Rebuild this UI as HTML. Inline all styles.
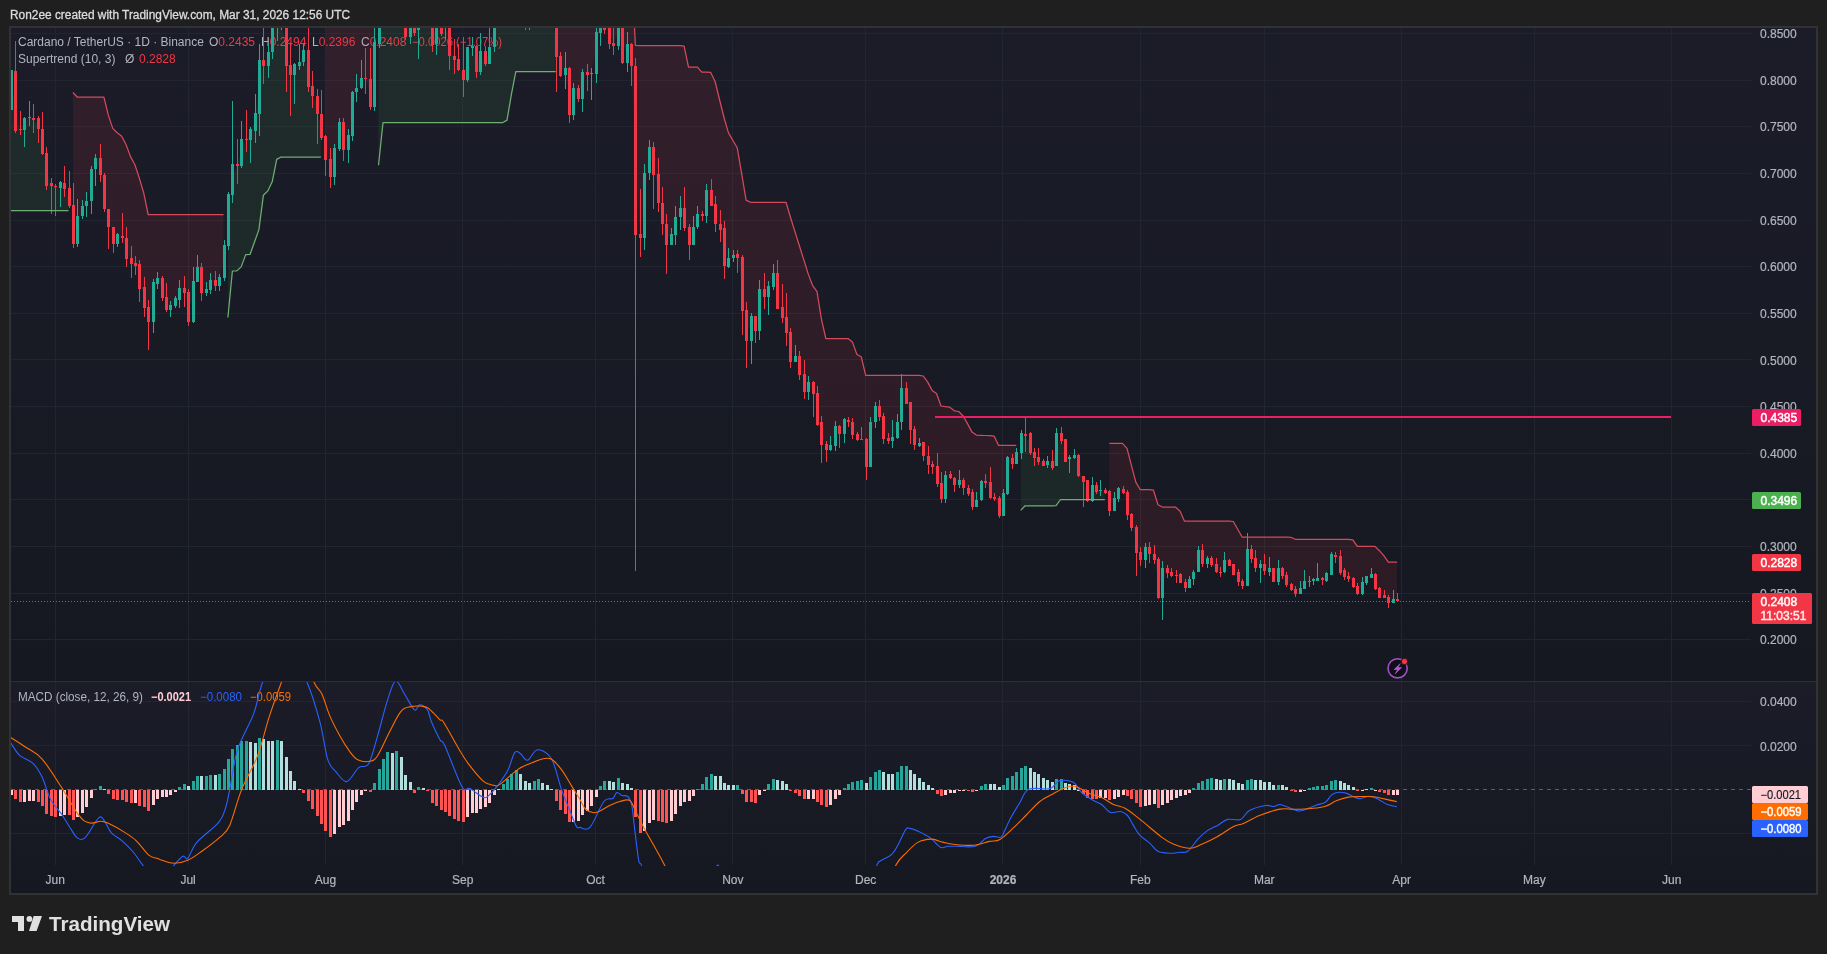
<!DOCTYPE html>
<html><head><meta charset="utf-8"><title>Cardano / TetherUS chart</title>
<style>html,body{margin:0;padding:0;background:#1f1f1f;overflow:hidden}svg{display:block;will-change:transform}text{font-family:"Liberation Sans",sans-serif}</style>
</head><body><svg width="1827" height="954" viewBox="0 0 1827 954" font-family="Liberation Sans, sans-serif"><rect x="0" y="0" width="1827" height="954" fill="#1f1f1f"/><rect x="9" y="26" width="1809" height="869" fill="#303234"/><defs><linearGradient id="gp" gradientUnits="userSpaceOnUse" x1="0" y1="28" x2="0" y2="681"><stop offset="0" stop-color="#1b1c28"/><stop offset="1" stop-color="#151821"/></linearGradient><linearGradient id="gm" gradientUnits="userSpaceOnUse" x1="0" y1="682" x2="0" y2="893"><stop offset="0" stop-color="#1b1c28"/><stop offset="1" stop-color="#151821"/></linearGradient></defs><rect x="11" y="28" width="1805" height="653" fill="url(#gp)"/><rect x="11" y="681" width="1805" height="212" fill="url(#gm)"/><text x="10" y="19" fill="#dcdcdc" stroke="#dcdcdc" stroke-width="0.3" font-size="12" textLength="340" lengthAdjust="spacingAndGlyphs">Ron2ee created with TradingView.com, Mar 31, 2026 12:56 UTC</text><path d="M11 33.5H1751 M11 80.5H1751 M11 126.5H1751 M11 173.5H1751 M11 220.5H1751 M11 266.5H1751 M11 313.5H1751 M11 359.5H1751 M11 406.5H1751 M11 453.5H1751 M11 499.5H1751 M11 546.5H1751 M11 593.5H1751 M11 639.5H1751 M11 701.5H1751 M11 745.5H1751 M11 833.5H1751 M55.5 28V865 M188.5 28V865 M325.5 28V865 M462.5 28V865 M595.5 28V865 M732.5 28V865 M865.5 28V865 M1002.5 28V865 M1140.5 28V865 M1264.5 28V865 M1401.5 28V865 M1534.5 28V865 M1671.5 28V865" stroke="#21252f" stroke-width="1" fill="none"/><defs><clipPath id="cp"><rect x="11" y="28" width="1740" height="653"/></clipPath><clipPath id="cm"><rect x="11" y="682" width="1740" height="184"/></clipPath></defs><g font-size="12"><text x="18" y="46" fill="#b2b5be">Cardano / TetherUS · 1D · Binance</text><text x="209" y="46" fill="#b2b5be">O<tspan fill="#f23645">0.2435</tspan></text><text x="261" y="46" fill="#b2b5be">H<tspan fill="#f23645">0.2494</tspan></text><text x="312" y="46" fill="#b2b5be">L<tspan fill="#f23645">0.2396</tspan></text><text x="361" y="46" fill="#b2b5be">C<tspan fill="#f23645">0.2408</tspan></text><text x="412" y="46" fill="#f23645" textLength="90" lengthAdjust="spacingAndGlyphs">−0.0026 (−1.07%)</text><text x="18" y="63" fill="#b2b5be">Supertrend (10, 3)</text><text x="125" y="63" fill="#b2b5be">Ø</text><text x="139" y="63" fill="#f23645">0.2828</text></g><g clip-path="url(#cp)"><polygon points="10.9,210.5 15.4,210.5 19.8,210.5 24.2,210.5 28.7,210.5 33.1,210.5 37.5,210.5 41.9,210.5 46.4,210.5 50.8,210.5 55.2,210.5 59.7,210.5 64.1,210.5 68.5,210.5 68.5,197.0 64.1,185.9 59.7,185.2 55.2,186.2 50.8,184.7 46.4,169.1 41.9,141.2 37.5,123.9 33.1,118.8 28.7,117.6 24.2,123.9 19.8,129.4 15.4,101.1 10.9,90.2" fill="rgba(76,175,80,0.10)"/><polygon points="72.9,92.5 77.4,97.2 81.8,97.2 86.2,97.2 90.7,97.2 95.1,97.2 99.5,97.2 103.9,97.2 108.4,115.4 112.8,128.4 117.2,132.8 121.7,136.3 126.1,144.7 130.5,156.6 134.9,164.7 139.4,178.4 143.8,193.3 148.2,214.5 152.7,214.5 157.1,214.5 161.5,214.5 165.9,214.5 170.4,214.5 174.8,214.5 179.2,214.5 183.7,214.5 188.1,214.5 192.5,214.5 196.9,214.5 201.4,214.5 205.8,214.5 210.2,214.5 214.7,214.5 219.1,214.5 223.5,214.5 223.5,261.3 219.1,281.4 214.7,282.9 210.2,284.9 205.8,290.8 201.4,279.8 196.9,274.3 192.5,301.4 188.1,306.9 183.7,290.4 179.2,293.9 174.8,302.1 170.4,307.6 165.9,303.4 161.5,288.1 157.1,280.9 152.7,302.2 148.2,314.4 143.8,297.5 139.4,276.6 134.9,264.6 130.5,261.1 126.1,248.5 121.7,237.2 117.2,239.1 112.8,235.6 108.4,218.2 103.9,191.9 99.5,166.7 95.1,163.5 90.7,185.2 86.2,203.7 81.8,210.8 77.4,229.7 72.9,224.6" fill="rgba(242,54,69,0.10)"/><polygon points="227.9,317.5 232.4,271.0 236.8,270.9 241.2,266.9 245.7,254.6 250.1,254.3 254.5,242.0 258.9,229.6 263.4,195.2 267.8,190.9 272.2,181.8 276.7,159.4 281.1,157.0 285.5,157.0 289.9,157.0 294.4,157.0 298.8,157.0 303.2,157.0 307.7,157.0 312.1,157.0 316.5,157.0 320.9,157.0 320.9,125.8 316.5,105.5 312.1,91.3 307.7,68.5 303.2,55.9 298.8,63.8 294.4,69.7 289.9,70.1 285.5,42.9 281.1,23.5 276.7,24.0 272.2,36.2 267.8,58.7 263.4,63.0 258.9,87.0 254.5,122.0 250.1,134.9 245.7,139.6 241.2,152.6 236.8,164.8 232.4,179.4 227.9,219.9" fill="rgba(76,175,80,0.10)"/><polygon points="325.4,-60.0 329.8,-60.0 334.2,-60.0 338.7,-60.0 343.1,-60.0 347.5,-60.0 351.9,-60.0 356.4,-60.0 360.8,-60.0 365.2,-60.0 369.7,-60.0 374.1,-60.0 374.1,74.3 369.7,92.8 365.2,78.2 360.8,83.0 356.4,90.1 351.9,113.7 347.5,142.4 343.1,136.1 338.7,135.7 334.2,162.5 329.8,168.1 325.4,148.2" fill="rgba(242,54,69,0.10)"/><polygon points="378.5,165.3 383.0,122.7 387.4,122.7 391.8,122.7 396.2,122.7 400.7,122.7 405.1,122.7 409.5,122.7 414.0,122.7 418.4,122.7 422.8,122.7 427.2,122.7 431.7,122.7 436.1,122.7 440.5,122.7 445.0,122.7 449.4,122.7 453.8,122.7 458.2,122.7 462.7,122.7 467.1,122.7 471.5,122.7 476.0,122.7 480.4,122.7 484.8,122.7 489.2,122.7 493.7,122.7 498.1,122.7 502.5,122.7 507.0,120.1 511.4,94.3 515.8,71.6 520.2,71.6 524.7,71.6 529.1,71.6 533.5,71.6 538.0,71.6 542.4,71.6 546.8,71.6 551.2,71.6 555.7,71.6 555.7,38.4 551.2,5.0 546.8,5.0 542.4,5.0 538.0,5.0 533.5,5.0 529.1,5.0 524.7,5.0 520.2,5.0 515.8,5.0 511.4,5.0 507.0,5.0 502.5,5.0 498.1,5.0 493.7,33.5 489.2,55.5 484.8,57.5 480.4,61.4 476.0,59.0 471.5,47.2 467.1,63.4 462.7,74.8 458.2,64.6 453.8,57.9 449.4,37.8 445.0,24.0 440.5,26.8 436.1,31.9 431.7,32.6 427.2,5.0 422.8,5.0 418.4,25.0 414.0,26.4 409.5,28.7 405.1,28.7 400.7,5.0 396.2,5.0 391.8,5.0 387.4,5.0 383.0,5.0 378.5,31.9" fill="rgba(76,175,80,0.10)"/><polygon points="555.7,-60.0 560.1,-60.0 564.5,-60.0 569.0,-60.0 573.4,-60.0 577.8,-60.0 582.2,-60.0 586.7,-60.0 591.1,-60.0 595.5,-60.0 600.0,-60.0 604.4,-60.0 608.8,-60.0 613.2,-60.0 617.7,-60.0 622.1,-60.0 626.5,-60.0 631.0,-41.2 635.4,45.4 639.8,45.7 644.2,45.7 648.7,45.7 653.1,45.7 657.5,45.7 662.0,45.7 666.4,45.7 670.8,45.7 675.2,45.7 679.7,45.7 684.1,46.2 688.5,67.0 693.0,67.0 697.4,67.1 701.8,72.1 706.2,72.1 710.7,72.4 715.1,81.5 719.5,99.5 724.0,117.5 728.4,132.6 732.8,140.2 737.2,147.7 741.7,173.9 746.1,200.1 750.5,202.3 755.0,202.3 759.4,202.3 763.8,202.3 768.2,202.3 772.7,202.3 777.1,202.3 781.5,202.3 786.0,202.3 790.4,217.0 794.8,231.1 799.2,245.3 803.7,259.4 808.1,273.6 812.5,285.3 817.0,291.6 821.4,318.8 825.8,338.5 830.2,338.5 834.7,338.5 839.1,338.5 843.5,338.5 848.0,338.5 852.4,341.9 856.8,354.3 861.3,357.0 865.7,375.4 870.1,375.4 874.5,375.4 879.0,375.4 883.4,375.4 887.8,375.4 892.3,375.4 896.7,375.4 901.1,375.4 905.5,375.4 910.0,375.4 914.4,375.4 918.8,375.4 923.3,376.0 927.7,382.1 932.1,390.4 936.5,393.5 941.0,406.0 945.4,406.7 949.8,407.2 954.3,410.8 958.7,411.5 963.1,416.0 967.5,423.6 972.0,432.1 976.4,435.1 980.8,435.3 985.3,435.5 989.7,435.6 994.1,436.1 998.5,445.3 1003.0,445.3 1007.4,445.3 1011.8,445.3 1016.3,445.3 1016.3,458.2 1011.8,461.0 1007.4,475.5 1003.0,504.6 998.5,506.9 994.1,497.9 989.7,490.0 985.3,481.8 980.8,490.5 976.4,503.5 972.0,499.9 967.5,490.9 963.1,484.1 958.7,482.2 954.3,481.1 949.8,476.3 945.4,486.9 941.0,490.9 936.5,474.9 932.1,465.4 927.7,460.3 923.3,449.3 918.8,444.6 914.4,436.7 910.0,415.9 905.5,395.9 901.1,405.2 896.7,430.1 892.3,438.6 887.8,439.5 883.4,427.2 879.0,411.5 874.5,414.2 870.1,444.2 865.7,452.8 861.3,439.4 856.8,436.7 852.4,428.5 848.0,421.4 843.5,426.1 839.1,430.1 834.7,436.3 830.2,447.3 825.8,446.9 821.4,433.6 817.0,408.8 812.5,388.4 808.1,387.2 803.7,382.9 799.2,365.2 794.8,358.9 790.4,347.1 786.0,325.1 781.5,312.5 777.1,290.9 772.7,279.9 768.2,291.3 763.8,292.9 759.4,309.8 755.0,323.6 750.5,328.6 746.1,325.5 741.7,283.9 737.2,256.1 732.8,256.6 728.4,262.5 724.0,247.2 719.5,226.7 715.1,214.1 710.7,198.0 706.2,203.5 701.8,215.3 697.4,220.4 693.0,235.8 688.5,235.8 684.1,217.7 679.7,212.6 675.2,226.3 670.8,239.3 666.4,234.6 662.0,213.7 657.5,188.5 653.1,161.1 648.7,160.2 644.2,205.4 639.8,235.8 635.4,150.4 631.0,55.0 626.5,53.5 622.1,41.5 617.7,32.9 613.2,44.5 608.8,32.0 604.4,25.0 600.0,26.5 595.5,53.1 591.1,73.6 586.7,73.6 582.2,85.3 577.8,93.6 573.4,101.4 569.0,91.2 564.5,71.2 560.1,65.7 555.7,38.4" fill="rgba(242,54,69,0.10)"/><polygon points="1020.7,510.4 1025.1,505.8 1029.5,505.8 1034.0,505.8 1038.4,505.8 1042.8,505.8 1047.3,505.8 1051.7,505.8 1056.1,505.6 1060.5,499.5 1065.0,499.5 1069.4,499.5 1073.8,499.5 1078.3,499.5 1082.7,499.5 1087.1,499.5 1091.5,499.5 1096.0,499.5 1100.4,499.5 1104.8,499.5 1104.8,491.3 1100.4,490.5 1096.0,488.6 1091.5,492.9 1087.1,490.6 1082.7,478.8 1078.3,465.3 1073.8,456.2 1069.4,458.2 1065.0,450.4 1060.5,437.0 1056.1,449.6 1051.7,464.5 1047.3,462.9 1042.8,463.4 1038.4,459.8 1034.0,454.6 1029.5,442.9 1025.1,434.6 1020.7,442.9" fill="rgba(76,175,80,0.10)"/><polygon points="1109.3,443.4 1113.7,443.4 1118.1,443.4 1122.5,443.4 1127.0,448.3 1131.4,465.3 1135.8,482.1 1140.3,489.7 1144.7,489.7 1149.1,489.7 1153.5,490.2 1158.0,504.7 1162.4,507.0 1166.8,507.0 1171.3,507.0 1175.7,507.2 1180.1,511.3 1184.5,521.2 1189.0,521.2 1193.4,521.2 1197.8,521.2 1202.3,521.2 1206.7,521.2 1211.1,521.2 1215.5,521.2 1220.0,521.2 1224.4,521.2 1228.8,521.2 1233.3,521.5 1237.7,529.3 1242.1,537.0 1246.5,537.0 1251.0,537.0 1255.4,537.0 1259.8,537.0 1264.3,537.0 1268.7,537.0 1273.1,537.0 1277.5,537.0 1282.0,537.0 1286.4,537.0 1290.8,537.3 1295.3,539.3 1299.7,539.3 1304.1,539.3 1308.5,539.3 1313.0,539.3 1317.4,539.3 1321.8,539.3 1326.3,539.3 1330.7,539.3 1335.1,539.3 1339.6,539.3 1344.0,539.3 1348.4,539.3 1352.8,539.8 1357.3,546.4 1361.7,546.4 1366.1,546.4 1370.6,546.4 1375.0,546.4 1379.4,550.7 1383.8,555.6 1388.3,562.1 1392.7,562.1 1397.1,562.1 1397.1,600.4 1392.7,601.0 1388.3,599.9 1383.8,596.3 1379.4,592.8 1375.0,581.3 1370.6,575.8 1366.1,579.8 1361.7,588.0 1357.3,590.0 1352.8,582.5 1348.4,577.8 1344.0,573.5 1339.6,564.5 1335.1,555.8 1330.7,564.5 1326.3,577.0 1321.8,579.0 1317.4,579.4 1313.0,580.2 1308.5,581.4 1304.1,584.9 1299.7,590.8 1295.3,591.5 1290.8,587.2 1286.4,579.8 1282.0,571.5 1277.5,575.1 1273.1,575.1 1268.7,569.5 1264.3,567.2 1259.8,565.7 1255.4,562.9 1251.0,553.9 1246.5,567.2 1242.1,583.4 1237.7,577.0 1233.3,569.6 1228.8,562.9 1224.4,566.0 1220.0,571.9 1215.5,568.0 1211.1,561.8 1206.7,561.0 1202.3,557.4 1197.8,560.9 1193.4,575.5 1189.0,583.3 1184.5,584.9 1180.1,578.6 1175.7,575.1 1171.3,573.5 1166.8,570.4 1162.4,583.0 1158.0,578.6 1153.5,557.0 1149.1,550.7 1144.7,553.5 1140.3,556.2 1135.8,539.7 1131.4,521.2 1127.0,503.5 1122.5,490.9 1118.1,493.7 1113.7,504.7 1109.3,501.1" fill="rgba(242,54,69,0.10)"/><path d="M11 70h1v40h-1z M10 70h3v40h-3z M24 117h1v30h-1z M23 118h3v12h-3z M29 101h1v25h-1z M28 117h3v1h-3z M60 181h1v26h-1z M59 182h3v6h-3z M77 199h1v48h-1z M76 216h3v28h-3z M82 200h1v19h-1z M81 206h3v10h-3z M86 192h1v25h-1z M85 201h3v5h-3z M91 166h1v48h-1z M90 169h3v32h-3z M95 154h1v32h-1z M94 158h3v11h-3z M117 233h1v14h-1z M116 234h3v10h-3z M153 279h1v54h-1z M152 282h3v40h-3z M157 272h1v17h-1z M156 278h3v6h-3z M170 301h1v16h-1z M169 305h3v5h-3z M175 296h1v12h-1z M174 298h3v8h-3z M179 280h1v28h-1z M178 288h3v12h-3z M193 267h1v56h-1z M192 281h3v41h-3z M197 255h1v27h-1z M196 267h3v15h-3z M206 282h1v14h-1z M205 289h3v4h-3z M210 273h1v21h-1z M209 280h3v10h-3z M219 274h1v17h-1z M218 277h3v9h-3z M224 240h1v41h-1z M223 245h3v33h-3z M228 192h1v58h-1z M227 194h3v52h-3z M232 101h1v102h-1z M231 164h3v31h-3z M241 121h1v47h-1z M240 139h3v27h-3z M250 127h1v36h-1z M249 129h3v11h-3z M255 94h1v49h-1z M254 113h3v18h-3z M259 44h1v92h-1z M258 60h3v54h-3z M268 44h1v34h-1z M267 52h3v14h-3z M272 20h1v39h-1z M271 20h3v32h-3z M277 20h1v21h-1z M276 20h3v8h-3z M281 20h1v10h-1z M280 20h3v7h-3z M294 63h1v41h-1z M293 64h3v11h-3z M299 44h1v26h-1z M298 62h3v4h-3z M303 44h1v22h-1z M302 50h3v12h-3z M334 144h1v41h-1z M333 148h3v29h-3z M339 118h1v33h-1z M338 122h3v27h-3z M348 129h1v34h-1z M347 135h3v15h-3z M352 91h1v50h-1z M351 92h3v44h-3z M356 74h1v28h-1z M355 88h3v4h-3z M361 60h1v29h-1z M360 78h3v10h-3z M374 20h1v91h-1z M373 42h3v65h-3z M379 20h1v28h-1z M378 20h3v24h-3z M383 0h1v20h-1z M382 0h3v10h-3z M387 0h1v20h-1z M386 0h3v10h-3z M392 0h1v20h-1z M391 0h3v10h-3z M396 0h1v20h-1z M395 0h3v10h-3z M401 0h1v20h-1z M400 0h3v10h-3z M410 20h1v24h-1z M409 20h3v17h-3z M418 20h1v39h-1z M417 20h3v10h-3z M423 0h1v20h-1z M422 0h3v10h-3z M427 0h1v20h-1z M426 0h3v10h-3z M436 20h1v35h-1z M435 20h3v24h-3z M445 20h1v20h-1z M444 20h3v8h-3z M467 47h1v35h-1z M466 47h3v33h-3z M472 37h1v19h-1z M471 46h3v2h-3z M480 33h1v42h-1z M479 51h3v21h-3z M489 20h1v44h-1z M488 47h3v17h-3z M494 20h1v32h-1z M493 20h3v27h-3z M498 0h1v25h-1z M497 0h3v10h-3z M503 0h1v20h-1z M502 0h3v10h-3z M507 0h1v20h-1z M506 0h3v10h-3z M516 0h1v20h-1z M515 0h3v10h-3z M529 0h1v30h-1z M528 0h3v10h-3z M534 0h1v20h-1z M533 0h3v10h-3z M542 0h1v20h-1z M541 0h3v10h-3z M551 0h1v20h-1z M550 0h3v10h-3z M565 52h1v37h-1z M564 68h3v7h-3z M573 83h1v37h-1z M572 88h3v27h-3z M582 69h1v43h-1z M581 72h3v27h-3z M591 68h1v32h-1z M590 73h3v1h-3z M596 20h1v63h-1z M595 32h3v42h-3z M600 20h1v26h-1z M599 20h3v13h-3z M618 20h1v30h-1z M617 20h3v26h-3z M627 32h1v40h-1z M626 44h3v19h-3z M644 164h1v86h-1z M643 173h3v65h-3z M649 140h1v40h-1z M648 147h3v26h-3z M671 228h1v17h-1z M670 234h3v11h-3z M675 206h1v39h-1z M674 217h3v18h-3z M680 196h1v34h-1z M679 208h3v9h-3z M693 216h1v29h-1z M692 227h3v18h-3z M697 206h1v23h-1z M696 214h3v13h-3z M706 184h1v39h-1z M705 190h3v26h-3z M728 248h1v20h-1z M727 258h3v9h-3z M733 250h1v12h-1z M732 255h3v3h-3z M751 313h1v51h-1z M750 316h3v25h-3z M759 280h1v60h-1z M758 289h3v42h-3z M768 281h1v34h-1z M767 286h3v11h-3z M773 264h1v26h-1z M772 273h3v14h-3z M795 345h1v17h-1z M794 356h3v6h-3z M808 376h1v24h-1z M807 382h3v10h-3z M830 436h1v15h-1z M829 445h3v5h-3z M835 421h1v30h-1z M834 426h3v20h-3z M844 418h1v25h-1z M843 419h3v15h-3z M870 417h1v50h-1z M869 422h3v45h-3z M875 402h1v26h-1z M874 406h3v16h-3z M892 420h1v28h-1z M891 437h3v4h-3z M897 414h1v25h-1z M896 422h3v16h-3z M901 374h1v56h-1z M900 388h3v34h-3z M919 438h1v9h-1z M918 443h3v3h-3z M945 471h1v32h-1z M944 475h3v24h-3z M959 470h1v18h-1z M958 480h3v5h-3z M976 492h1v15h-1z M975 500h3v7h-3z M981 480h1v21h-1z M980 481h3v19h-3z M1003 489h1v27h-1z M1002 493h3v23h-3z M1007 456h1v39h-1z M1006 457h3v37h-3z M1016 448h1v16h-1z M1015 452h3v12h-3z M1021 430h1v29h-1z M1020 433h3v20h-3z M1047 456h1v12h-1z M1046 461h3v4h-3z M1056 428h1v38h-1z M1055 433h3v33h-3z M1069 455h1v18h-1z M1068 457h3v2h-3z M1074 449h1v10h-1z M1073 455h3v3h-3z M1092 477h1v25h-1z M1091 485h3v16h-3z M1100 480h1v16h-1z M1099 490h3v1h-3z M1114 492h1v19h-1z M1113 498h3v13h-3z M1118 487h1v15h-1z M1117 488h3v11h-3z M1145 543h1v25h-1z M1144 547h3v13h-3z M1162 561h1v59h-1z M1161 568h3v30h-3z M1189 576h1v12h-1z M1188 579h3v9h-3z M1193 570h1v15h-1z M1192 572h3v7h-3z M1198 546h1v26h-1z M1197 550h3v22h-3z M1207 556h1v12h-1z M1206 558h3v6h-3z M1224 552h1v21h-1z M1223 560h3v12h-3z M1247 533h1v53h-1z M1246 549h3v37h-3z M1260 560h1v23h-1z M1259 564h3v4h-3z M1269 557h1v19h-1z M1268 568h3v4h-3z M1278 560h1v25h-1z M1277 568h3v14h-3z M1300 581h1v13h-1z M1299 588h3v6h-3z M1304 570h1v19h-1z M1303 581h3v8h-3z M1309 576h1v11h-1z M1308 581h3v1h-3z M1313 578h1v7h-1z M1312 579h3v2h-3z M1317 563h1v18h-1z M1316 578h3v3h-3z M1326 572h1v10h-1z M1325 573h3v8h-3z M1331 552h1v23h-1z M1330 554h3v21h-3z M1362 577h1v18h-1z M1361 582h3v12h-3z M1366 576h1v9h-1z M1365 576h3v7h-3z M1371 568h1v10h-1z M1370 574h3v4h-3z M1393 590h1v13h-1z M1392 599h3v4h-3z" fill="#22ab94"/><path d="M15 41h1v92h-1z M14 71h3v60h-3z M20 111h1v24h-1z M19 129h3v1h-3z M33 104h1v29h-1z M32 118h3v2h-3z M38 116h1v27h-1z M37 118h3v11h-3z M42 112h1v43h-1z M41 129h3v25h-3z M46 147h1v43h-1z M45 153h3v33h-3z M51 178h1v36h-1z M50 183h3v3h-3z M55 184h1v32h-1z M54 186h3v1h-3z M64 166h1v31h-1z M63 183h3v6h-3z M69 171h1v37h-1z M68 188h3v18h-3z M73 183h1v65h-1z M72 205h3v39h-3z M100 144h1v38h-1z M99 158h3v17h-3z M104 173h1v39h-1z M103 175h3v34h-3z M108 209h1v40h-1z M107 209h3v18h-3z M113 227h1v26h-1z M112 227h3v17h-3z M122 213h1v30h-1z M121 236h3v2h-3z M126 227h1v40h-1z M125 238h3v21h-3z M131 246h1v32h-1z M130 258h3v6h-3z M135 256h1v19h-1z M134 263h3v3h-3z M139 260h1v42h-1z M138 264h3v25h-3z M144 277h1v40h-1z M143 287h3v21h-3z M148 300h1v50h-1z M147 307h3v15h-3z M162 276h1v25h-1z M161 278h3v20h-3z M166 283h1v29h-1z M165 297h3v13h-3z M184 276h1v31h-1z M183 288h3v5h-3z M188 289h1v37h-1z M187 292h3v30h-3z M201 263h1v38h-1z M200 267h3v26h-3z M215 271h1v20h-1z M214 280h3v6h-3z M237 139h1v45h-1z M236 164h3v2h-3z M246 110h1v42h-1z M245 139h3v1h-3z M263 20h1v64h-1z M262 60h3v6h-3z M286 20h1v72h-1z M285 20h3v46h-3z M290 44h1v72h-1z M289 65h3v10h-3z M308 20h1v72h-1z M307 50h3v37h-3z M312 71h1v37h-1z M311 86h3v10h-3z M317 89h1v55h-1z M316 96h3v18h-3z M321 90h1v50h-1z M320 114h3v24h-3z M325 135h1v41h-1z M324 136h3v24h-3z M330 148h1v40h-1z M329 159h3v18h-3z M343 118h1v43h-1z M342 122h3v28h-3z M365 48h1v46h-1z M364 78h3v1h-3z M370 48h1v62h-1z M369 79h3v28h-3z M405 20h1v20h-1z M404 20h3v17h-3z M414 20h1v16h-1z M413 20h3v13h-3z M432 20h1v32h-1z M431 20h3v25h-3z M441 20h1v16h-1z M440 20h3v14h-3z M449 20h1v50h-1z M448 20h3v36h-3z M454 39h1v35h-1z M453 56h3v4h-3z M458 44h1v27h-1z M457 59h3v11h-3z M463 37h1v60h-1z M462 70h3v10h-3z M476 45h1v33h-1z M475 46h3v26h-3z M485 46h1v20h-1z M484 51h3v13h-3z M511 0h1v20h-1z M510 0h3v10h-3z M520 0h1v20h-1z M519 0h3v10h-3z M525 0h1v30h-1z M524 0h3v10h-3z M538 0h1v20h-1z M537 0h3v10h-3z M547 0h1v20h-1z M546 0h3v10h-3z M556 20h1v72h-1z M555 20h3v37h-3z M560 52h1v25h-1z M559 56h3v20h-3z M569 67h1v56h-1z M568 68h3v47h-3z M578 85h1v17h-1z M577 88h3v11h-3z M587 64h1v27h-1z M586 72h3v3h-3z M604 20h1v14h-1z M603 20h3v10h-3z M609 20h1v29h-1z M608 20h3v24h-3z M613 20h1v35h-1z M612 43h3v3h-3z M622 20h1v44h-1z M621 20h3v43h-3z M631 43h1v43h-1z M630 44h3v22h-3z M635 58h1v513h-1z M634 66h3v169h-3z M640 189h1v68h-1z M639 234h3v4h-3z M653 142h1v67h-1z M652 147h3v28h-3z M658 158h1v54h-1z M657 174h3v29h-3z M662 187h1v48h-1z M661 203h3v21h-3z M666 214h1v60h-1z M665 224h3v21h-3z M684 187h1v44h-1z M683 208h3v20h-3z M689 224h1v36h-1z M688 227h3v18h-3z M702 211h1v10h-1z M701 214h3v2h-3z M711 179h1v27h-1z M710 190h3v16h-3z M715 196h1v36h-1z M714 204h3v20h-3z M720 210h1v32h-1z M719 224h3v6h-3z M724 221h1v58h-1z M723 228h3v38h-3z M737 250h1v23h-1z M736 254h3v4h-3z M742 255h1v80h-1z M741 257h3v54h-3z M746 302h1v66h-1z M745 310h3v31h-3z M755 316h1v27h-1z M754 316h3v15h-3z M764 273h1v36h-1z M763 289h3v8h-3z M777 260h1v49h-1z M776 273h3v36h-3z M782 284h1v39h-1z M781 307h3v11h-3z M786 293h1v53h-1z M785 317h3v16h-3z M790 328h1v40h-1z M789 332h3v30h-3z M799 351h1v29h-1z M798 356h3v19h-3z M804 360h1v39h-1z M803 374h3v18h-3z M813 381h1v36h-1z M812 382h3v12h-3z M817 386h1v40h-1z M816 393h3v32h-3z M821 416h1v47h-1z M820 422h3v23h-3z M826 441h1v21h-1z M825 444h3v6h-3z M839 425h1v23h-1z M838 426h3v8h-3z M848 417h1v10h-1z M847 420h3v2h-3z M852 418h1v21h-1z M851 422h3v13h-3z M857 432h1v9h-1z M856 434h3v6h-3z M861 427h1v13h-1z M860 439h3v1h-3z M866 438h1v42h-1z M865 439h3v28h-3z M879 400h1v21h-1z M878 406h3v11h-3z M883 413h1v31h-1z M882 416h3v23h-3z M888 433h1v11h-1z M887 438h3v3h-3z M906 382h1v22h-1z M905 388h3v16h-3z M910 402h1v42h-1z M909 402h3v28h-3z M914 426h1v24h-1z M913 429h3v16h-3z M923 442h1v19h-1z M922 442h3v14h-3z M928 446h1v28h-1z M927 456h3v9h-3z M932 461h1v13h-1z M931 464h3v3h-3z M937 453h1v34h-1z M936 466h3v18h-3z M941 472h1v31h-1z M940 483h3v16h-3z M950 471h1v8h-1z M949 474h3v4h-3z M954 477h1v15h-1z M953 478h3v7h-3z M963 478h1v17h-1z M962 480h3v8h-3z M968 485h1v11h-1z M967 488h3v6h-3z M972 489h1v21h-1z M971 492h3v15h-3z M985 474h1v14h-1z M984 481h3v2h-3z M990 467h1v32h-1z M989 482h3v16h-3z M994 493h1v8h-1z M993 497h3v2h-3z M999 496h1v22h-1z M998 498h3v18h-3z M1012 454h1v15h-1z M1011 458h3v6h-3z M1025 418h1v34h-1z M1024 434h3v2h-3z M1030 432h1v23h-1z M1029 433h3v20h-3z M1034 448h1v18h-1z M1033 452h3v6h-3z M1038 448h1v17h-1z M1037 457h3v5h-3z M1043 459h1v7h-1z M1042 461h3v5h-3z M1052 450h1v20h-1z M1051 461h3v7h-3z M1061 427h1v17h-1z M1060 433h3v8h-3z M1065 439h1v23h-1z M1064 439h3v23h-3z M1078 454h1v23h-1z M1077 455h3v21h-3z M1083 476h1v31h-1z M1082 476h3v6h-3z M1087 480h1v22h-1z M1086 480h3v21h-3z M1096 482h1v12h-1z M1095 485h3v7h-3z M1105 488h1v6h-1z M1104 490h3v3h-3z M1109 490h1v26h-1z M1108 491h3v20h-3z M1123 486h1v8h-1z M1122 489h3v4h-3z M1127 490h1v30h-1z M1126 492h3v23h-3z M1131 513h1v18h-1z M1130 514h3v14h-3z M1136 525h1v51h-1z M1135 527h3v26h-3z M1140 547h1v19h-1z M1139 552h3v8h-3z M1149 542h1v21h-1z M1148 547h3v7h-3z M1154 545h1v19h-1z M1153 554h3v6h-3z M1158 557h1v42h-1z M1157 559h3v39h-3z M1167 565h1v13h-1z M1166 568h3v5h-3z M1171 568h1v9h-1z M1170 572h3v4h-3z M1176 570h1v13h-1z M1175 575h3v1h-3z M1180 573h1v10h-1z M1179 574h3v9h-3z M1185 579h1v13h-1z M1184 582h3v6h-3z M1202 544h1v23h-1z M1201 550h3v14h-3z M1211 556h1v11h-1z M1210 558h3v7h-3z M1216 558h1v15h-1z M1215 564h3v8h-3z M1220 567h1v10h-1z M1219 572h3v1h-3z M1229 559h1v7h-1z M1228 560h3v6h-3z M1233 564h1v11h-1z M1232 564h3v11h-3z M1238 569h1v17h-1z M1237 572h3v10h-3z M1242 579h1v10h-1z M1241 581h3v5h-3z M1251 545h1v18h-1z M1250 549h3v10h-3z M1255 550h1v22h-1z M1254 558h3v10h-3z M1264 554h1v21h-1z M1263 564h3v7h-3z M1273 568h1v14h-1z M1272 568h3v14h-3z M1282 567h1v12h-1z M1281 568h3v8h-3z M1286 572h1v15h-1z M1285 575h3v10h-3z M1291 583h1v8h-1z M1290 584h3v6h-3z M1295 586h1v11h-1z M1294 589h3v5h-3z M1322 577h1v8h-1z M1321 578h3v2h-3z M1335 552h1v11h-1z M1334 555h3v2h-3z M1340 550h1v25h-1z M1339 556h3v17h-3z M1344 568h1v12h-1z M1343 570h3v7h-3z M1348 572h1v10h-1z M1347 576h3v3h-3z M1353 577h1v11h-1z M1352 578h3v9h-3z M1357 583h1v12h-1z M1356 586h3v8h-3z M1375 573h1v17h-1z M1374 574h3v15h-3z M1379 587h1v11h-1z M1378 588h3v10h-3z M1384 590h1v8h-1z M1383 595h3v3h-3z M1388 595h1v13h-1z M1387 597h3v6h-3z M1397 593h1v8h-1z M1396 599h3v2h-3z" fill="#f23645"/><polyline points="10.9,210.5 15.4,210.5 19.8,210.5 24.2,210.5 28.7,210.5 33.1,210.5 37.5,210.5 41.9,210.5 46.4,210.5 50.8,210.5 55.2,210.5 59.7,210.5 64.1,210.5 68.5,210.5" fill="none" stroke="#6fae73" stroke-width="1.25" stroke-linejoin="round"/><polyline points="72.9,92.5 77.4,97.2 81.8,97.2 86.2,97.2 90.7,97.2 95.1,97.2 99.5,97.2 103.9,97.2 108.4,115.4 112.8,128.4 117.2,132.8 121.7,136.3 126.1,144.7 130.5,156.6 134.9,164.7 139.4,178.4 143.8,193.3 148.2,214.5 152.7,214.5 157.1,214.5 161.5,214.5 165.9,214.5 170.4,214.5 174.8,214.5 179.2,214.5 183.7,214.5 188.1,214.5 192.5,214.5 196.9,214.5 201.4,214.5 205.8,214.5 210.2,214.5 214.7,214.5 219.1,214.5 223.5,214.5" fill="none" stroke="#d44a5c" stroke-width="1.25" stroke-linejoin="round"/><polyline points="227.9,317.5 232.4,271.0 236.8,270.9 241.2,266.9 245.7,254.6 250.1,254.3 254.5,242.0 258.9,229.6 263.4,195.2 267.8,190.9 272.2,181.8 276.7,159.4 281.1,157.0 285.5,157.0 289.9,157.0 294.4,157.0 298.8,157.0 303.2,157.0 307.7,157.0 312.1,157.0 316.5,157.0 320.9,157.0" fill="none" stroke="#6fae73" stroke-width="1.25" stroke-linejoin="round"/><polyline points="325.4,-60.0 329.8,-60.0 334.2,-60.0 338.7,-60.0 343.1,-60.0 347.5,-60.0 351.9,-60.0 356.4,-60.0 360.8,-60.0 365.2,-60.0 369.7,-60.0 374.1,-60.0" fill="none" stroke="#d44a5c" stroke-width="1.25" stroke-linejoin="round"/><polyline points="378.5,165.3 383.0,122.7 387.4,122.7 391.8,122.7 396.2,122.7 400.7,122.7 405.1,122.7 409.5,122.7 414.0,122.7 418.4,122.7 422.8,122.7 427.2,122.7 431.7,122.7 436.1,122.7 440.5,122.7 445.0,122.7 449.4,122.7 453.8,122.7 458.2,122.7 462.7,122.7 467.1,122.7 471.5,122.7 476.0,122.7 480.4,122.7 484.8,122.7 489.2,122.7 493.7,122.7 498.1,122.7 502.5,122.7 507.0,120.1 511.4,94.3 515.8,71.6 520.2,71.6 524.7,71.6 529.1,71.6 533.5,71.6 538.0,71.6 542.4,71.6 546.8,71.6 551.2,71.6 555.7,71.6" fill="none" stroke="#6fae73" stroke-width="1.25" stroke-linejoin="round"/><polyline points="555.7,-60.0 560.1,-60.0 564.5,-60.0 569.0,-60.0 573.4,-60.0 577.8,-60.0 582.2,-60.0 586.7,-60.0 591.1,-60.0 595.5,-60.0 600.0,-60.0 604.4,-60.0 608.8,-60.0 613.2,-60.0 617.7,-60.0 622.1,-60.0 626.5,-60.0 631.0,-41.2 635.4,45.4 639.8,45.7 644.2,45.7 648.7,45.7 653.1,45.7 657.5,45.7 662.0,45.7 666.4,45.7 670.8,45.7 675.2,45.7 679.7,45.7 684.1,46.2 688.5,67.0 693.0,67.0 697.4,67.1 701.8,72.1 706.2,72.1 710.7,72.4 715.1,81.5 719.5,99.5 724.0,117.5 728.4,132.6 732.8,140.2 737.2,147.7 741.7,173.9 746.1,200.1 750.5,202.3 755.0,202.3 759.4,202.3 763.8,202.3 768.2,202.3 772.7,202.3 777.1,202.3 781.5,202.3 786.0,202.3 790.4,217.0 794.8,231.1 799.2,245.3 803.7,259.4 808.1,273.6 812.5,285.3 817.0,291.6 821.4,318.8 825.8,338.5 830.2,338.5 834.7,338.5 839.1,338.5 843.5,338.5 848.0,338.5 852.4,341.9 856.8,354.3 861.3,357.0 865.7,375.4 870.1,375.4 874.5,375.4 879.0,375.4 883.4,375.4 887.8,375.4 892.3,375.4 896.7,375.4 901.1,375.4 905.5,375.4 910.0,375.4 914.4,375.4 918.8,375.4 923.3,376.0 927.7,382.1 932.1,390.4 936.5,393.5 941.0,406.0 945.4,406.7 949.8,407.2 954.3,410.8 958.7,411.5 963.1,416.0 967.5,423.6 972.0,432.1 976.4,435.1 980.8,435.3 985.3,435.5 989.7,435.6 994.1,436.1 998.5,445.3 1003.0,445.3 1007.4,445.3 1011.8,445.3 1016.3,445.3" fill="none" stroke="#d44a5c" stroke-width="1.25" stroke-linejoin="round"/><polyline points="1020.7,510.4 1025.1,505.8 1029.5,505.8 1034.0,505.8 1038.4,505.8 1042.8,505.8 1047.3,505.8 1051.7,505.8 1056.1,505.6 1060.5,499.5 1065.0,499.5 1069.4,499.5 1073.8,499.5 1078.3,499.5 1082.7,499.5 1087.1,499.5 1091.5,499.5 1096.0,499.5 1100.4,499.5 1104.8,499.5" fill="none" stroke="#6fae73" stroke-width="1.25" stroke-linejoin="round"/><polyline points="1109.3,443.4 1113.7,443.4 1118.1,443.4 1122.5,443.4 1127.0,448.3 1131.4,465.3 1135.8,482.1 1140.3,489.7 1144.7,489.7 1149.1,489.7 1153.5,490.2 1158.0,504.7 1162.4,507.0 1166.8,507.0 1171.3,507.0 1175.7,507.2 1180.1,511.3 1184.5,521.2 1189.0,521.2 1193.4,521.2 1197.8,521.2 1202.3,521.2 1206.7,521.2 1211.1,521.2 1215.5,521.2 1220.0,521.2 1224.4,521.2 1228.8,521.2 1233.3,521.5 1237.7,529.3 1242.1,537.0 1246.5,537.0 1251.0,537.0 1255.4,537.0 1259.8,537.0 1264.3,537.0 1268.7,537.0 1273.1,537.0 1277.5,537.0 1282.0,537.0 1286.4,537.0 1290.8,537.3 1295.3,539.3 1299.7,539.3 1304.1,539.3 1308.5,539.3 1313.0,539.3 1317.4,539.3 1321.8,539.3 1326.3,539.3 1330.7,539.3 1335.1,539.3 1339.6,539.3 1344.0,539.3 1348.4,539.3 1352.8,539.8 1357.3,546.4 1361.7,546.4 1366.1,546.4 1370.6,546.4 1375.0,546.4 1379.4,550.7 1383.8,555.6 1388.3,562.1 1392.7,562.1 1397.1,562.1" fill="none" stroke="#d44a5c" stroke-width="1.25" stroke-linejoin="round"/><rect x="935" y="416" width="736" height="2" fill="#e91e63"/><path d="M11 601.5H1751" stroke="#f23645" stroke-width="1" stroke-dasharray="1 2"/></g><rect x="11" y="681" width="1805" height="1" fill="#2a2e39"/><g font-size="12"><text x="18" y="701" fill="#b2b5be" textLength="125" lengthAdjust="spacingAndGlyphs">MACD (close, 12, 26, 9)</text><text x="151" y="701" fill="#ffcdd2" font-weight="bold" textLength="40" lengthAdjust="spacingAndGlyphs">−0.0021</text><text x="200" y="701" fill="#2962ff" textLength="42" lengthAdjust="spacingAndGlyphs">−0.0080</text><text x="250" y="701" fill="#ff6d00" textLength="41" lengthAdjust="spacingAndGlyphs">−0.0059</text></g><g clip-path="url(#cm)"><path d="M11 789.5H1751" stroke="#5d606b" stroke-width="1" stroke-dasharray="4 4"/><path d="M94 789h3v1h-3z M99 786h3v4h-3z M178 787h3v3h-3z M183 784h3v6h-3z M192 781h3v9h-3z M196 776h3v14h-3z M205 776h3v14h-3z M209 775h3v15h-3z M218 774h3v16h-3z M223 769h3v21h-3z M227 759h3v31h-3z M231 749h3v41h-3z M236 745h3v45h-3z M240 741h3v49h-3z M245 741h3v49h-3z M258 738h3v52h-3z M276 740h3v50h-3z M373 783h3v7h-3z M378 769h3v21h-3z M382 759h3v31h-3z M386 752h3v38h-3z M395 751h3v39h-3z M417 787h3v3h-3z M502 784h3v6h-3z M506 779h3v11h-3z M510 774h3v16h-3z M515 770h3v20h-3z M533 781h3v9h-3z M537 779h3v11h-3z M599 786h3v4h-3z M603 781h3v9h-3z M617 778h3v12h-3z M696 789h3v1h-3z M701 784h3v6h-3z M705 777h3v13h-3z M710 774h3v16h-3z M736 785h3v5h-3z M767 784h3v6h-3z M772 779h3v11h-3z M843 788h3v2h-3z M847 784h3v6h-3z M851 782h3v8h-3z M856 781h3v9h-3z M860 780h3v10h-3z M869 777h3v13h-3z M874 772h3v18h-3z M878 770h3v20h-3z M896 772h3v18h-3z M900 766h3v24h-3z M905 766h3v24h-3z M980 786h3v4h-3z M984 784h3v6h-3z M1002 785h3v5h-3z M1006 778h3v12h-3z M1011 776h3v14h-3z M1015 772h3v18h-3z M1020 768h3v22h-3z M1024 766h3v24h-3z M1055 779h3v11h-3z M1060 779h3v11h-3z M1192 788h3v2h-3z M1197 783h3v7h-3z M1201 781h3v9h-3z M1206 779h3v11h-3z M1210 778h3v12h-3z M1223 779h3v11h-3z M1246 780h3v10h-3z M1250 779h3v11h-3z M1277 785h3v5h-3z M1308 788h3v2h-3z M1312 787h3v3h-3z M1316 786h3v4h-3z M1321 786h3v4h-3z M1325 785h3v5h-3z M1330 781h3v9h-3z M1334 780h3v10h-3z M1370 788h3v2h-3z" fill="#26a69a"/><path d="M103 789h3v1h-3z M187 786h3v4h-3z M200 776h3v14h-3z M214 775h3v15h-3z M249 742h3v48h-3z M254 743h3v47h-3z M262 739h3v51h-3z M267 741h3v49h-3z M271 741h3v49h-3z M280 741h3v49h-3z M285 757h3v33h-3z M289 771h3v19h-3z M293 781h3v9h-3z M298 789h3v1h-3z M391 753h3v37h-3z M400 757h3v33h-3z M404 775h3v15h-3z M409 782h3v8h-3z M422 788h3v2h-3z M497 789h3v1h-3z M519 774h3v16h-3z M524 781h3v9h-3z M528 783h3v7h-3z M541 783h3v7h-3z M546 785h3v5h-3z M550 789h3v1h-3z M608 781h3v9h-3z M612 782h3v8h-3z M621 783h3v7h-3z M626 784h3v6h-3z M630 788h3v2h-3z M714 776h3v14h-3z M719 776h3v14h-3z M723 783h3v7h-3z M727 785h3v5h-3z M732 785h3v5h-3z M776 780h3v10h-3z M781 781h3v9h-3z M785 784h3v6h-3z M865 783h3v7h-3z M882 772h3v18h-3z M887 774h3v16h-3z M891 774h3v16h-3z M909 770h3v20h-3z M913 774h3v16h-3z M918 778h3v12h-3z M922 782h3v8h-3z M927 785h3v5h-3z M931 788h3v2h-3z M989 784h3v6h-3z M993 784h3v6h-3z M998 787h3v3h-3z M1029 768h3v22h-3z M1033 772h3v18h-3z M1037 774h3v16h-3z M1042 778h3v12h-3z M1046 780h3v10h-3z M1051 782h3v8h-3z M1064 783h3v7h-3z M1068 784h3v6h-3z M1073 785h3v5h-3z M1215 779h3v11h-3z M1219 780h3v10h-3z M1228 779h3v11h-3z M1232 780h3v10h-3z M1237 783h3v7h-3z M1241 784h3v6h-3z M1254 780h3v10h-3z M1259 780h3v10h-3z M1263 782h3v8h-3z M1268 782h3v8h-3z M1272 785h3v5h-3z M1281 785h3v5h-3z M1285 787h3v3h-3z M1339 781h3v9h-3z M1343 783h3v7h-3z M1347 785h3v5h-3z M1352 787h3v3h-3z M1365 789h3v1h-3z" fill="#b2dfdb"/><path d="M14 790h3v9h-3z M19 790h3v12h-3z M37 790h3v12h-3z M41 790h3v16h-3z M45 790h3v24h-3z M50 790h3v26h-3z M54 790h3v27h-3z M68 790h3v25h-3z M72 790h3v30h-3z M107 790h3v4h-3z M112 790h3v9h-3z M116 790h3v10h-3z M121 790h3v10h-3z M125 790h3v12h-3z M130 790h3v13h-3z M138 790h3v16h-3z M143 790h3v17h-3z M147 790h3v21h-3z M302 790h3v3h-3z M307 790h3v11h-3z M311 790h3v19h-3z M316 790h3v26h-3z M320 790h3v34h-3z M324 790h3v41h-3z M329 790h3v47h-3z M369 790h3v2h-3z M413 790h3v3h-3z M426 790h3v1h-3z M431 790h3v13h-3z M435 790h3v16h-3z M440 790h3v20h-3z M444 790h3v22h-3z M448 790h3v26h-3z M453 790h3v29h-3z M457 790h3v31h-3z M462 790h3v32h-3z M555 790h3v11h-3z M559 790h3v20h-3z M564 790h3v24h-3z M568 790h3v32h-3z M634 790h3v27h-3z M639 790h3v43h-3z M657 790h3v31h-3z M661 790h3v32h-3z M665 790h3v33h-3z M741 790h3v4h-3z M745 790h3v12h-3z M750 790h3v12h-3z M754 790h3v13h-3z M789 790h3v1h-3z M794 790h3v3h-3z M798 790h3v6h-3z M803 790h3v9h-3z M816 790h3v12h-3z M820 790h3v15h-3z M825 790h3v17h-3z M936 790h3v4h-3z M940 790h3v6h-3z M967 790h3v1h-3z M971 790h3v2h-3z M1082 790h3v4h-3z M1086 790h3v8h-3z M1091 790h3v9h-3z M1095 790h3v9h-3z M1108 790h3v10h-3z M1126 790h3v6h-3z M1130 790h3v9h-3z M1135 790h3v13h-3z M1139 790h3v17h-3z M1157 790h3v18h-3z M1290 790h3v1h-3z M1294 790h3v2h-3z M1356 790h3v1h-3z M1378 790h3v2h-3z M1383 790h3v3h-3z M1387 790h3v5h-3z" fill="#ff5252"/><path d="M10 790h3v5h-3z M23 790h3v12h-3z M28 790h3v11h-3z M32 790h3v11h-3z M59 790h3v26h-3z M63 790h3v25h-3z M76 790h3v27h-3z M81 790h3v23h-3z M85 790h3v17h-3z M90 790h3v8h-3z M134 790h3v13h-3z M152 790h3v15h-3z M156 790h3v9h-3z M161 790h3v7h-3z M165 790h3v7h-3z M169 790h3v5h-3z M174 790h3v2h-3z M333 790h3v44h-3z M338 790h3v37h-3z M342 790h3v35h-3z M347 790h3v31h-3z M351 790h3v20h-3z M355 790h3v12h-3z M360 790h3v5h-3z M364 790h3v1h-3z M466 790h3v27h-3z M471 790h3v23h-3z M475 790h3v23h-3z M479 790h3v19h-3z M484 790h3v17h-3z M488 790h3v13h-3z M493 790h3v5h-3z M572 790h3v32h-3z M577 790h3v31h-3z M581 790h3v25h-3z M586 790h3v21h-3z M590 790h3v16h-3z M595 790h3v7h-3z M643 790h3v41h-3z M648 790h3v33h-3z M652 790h3v30h-3z M670 790h3v31h-3z M674 790h3v24h-3z M679 790h3v16h-3z M683 790h3v12h-3z M688 790h3v11h-3z M692 790h3v6h-3z M758 790h3v5h-3z M763 790h3v1h-3z M807 790h3v9h-3z M812 790h3v9h-3z M829 790h3v15h-3z M834 790h3v9h-3z M838 790h3v5h-3z M944 790h3v5h-3z M949 790h3v3h-3z M953 790h3v3h-3z M958 790h3v1h-3z M962 790h3v1h-3z M975 790h3v1h-3z M1077 790h3v1h-3z M1099 790h3v8h-3z M1104 790h3v8h-3z M1113 790h3v9h-3z M1117 790h3v7h-3z M1122 790h3v5h-3z M1144 790h3v16h-3z M1148 790h3v15h-3z M1153 790h3v14h-3z M1161 790h3v15h-3z M1166 790h3v13h-3z M1170 790h3v10h-3z M1175 790h3v8h-3z M1179 790h3v6h-3z M1184 790h3v5h-3z M1188 790h3v3h-3z M1299 790h3v2h-3z M1303 790h3v1h-3z M1361 790h3v1h-3z M1374 790h3v1h-3z M1392 790h3v5h-3z M1396 790h3v5h-3z" fill="#ffcdd2"/><path d="M10.7 742.8 C12.2 744.9 15.9 751.9 19.6 755.3 C23.3 758.7 29.3 759.8 33.0 763.3 C36.7 766.8 38.9 770.5 41.9 776.6 C44.9 782.7 47.5 793.6 50.8 799.8 C54.1 806.0 58.2 809.2 61.5 814.0 C64.8 818.8 67.7 824.3 70.4 828.3 C73.1 832.3 75.0 836.6 77.5 838.1 C80.0 839.6 81.9 840.7 85.5 837.3 C89.1 833.9 95.6 820.1 98.9 817.6 C102.2 815.1 103.0 819.6 105.1 822.1 C107.2 824.6 108.6 829.7 111.4 832.8 C114.2 835.9 118.5 837.7 122.1 840.8 C125.7 843.9 129.4 847.5 132.8 851.5 C136.2 855.5 138.4 859.3 142.6 864.9 C146.8 870.5 152.8 884.9 158.0 885.0 C163.2 885.1 169.8 870.1 173.9 865.3 C178.1 860.5 180.6 857.5 182.9 856.3 C185.2 855.1 185.5 860.6 187.8 858.3 C190.1 856.0 191.7 848.4 196.8 842.4 C202.0 836.4 213.9 828.2 218.7 822.4 C223.5 816.6 223.9 813.0 225.7 807.5 C227.5 802.0 227.7 799.2 229.7 789.6 C231.7 780.0 233.6 762.3 237.6 749.7 C241.6 737.1 249.3 725.5 253.6 713.9 C257.9 702.3 258.3 692.3 263.5 680.0 C268.7 667.7 277.8 639.7 285.0 640.0 C292.2 640.3 301.1 668.4 306.9 682.0 C312.7 695.6 316.4 708.8 319.9 721.8 C323.4 734.8 325.1 751.4 327.8 759.7 C330.5 768.0 332.6 768.0 335.8 771.6 C339.0 775.2 343.0 782.3 346.8 781.6 C350.6 780.9 355.1 770.6 358.7 767.6 C362.3 764.6 365.5 769.0 368.7 763.7 C371.9 758.4 374.5 746.4 377.6 735.8 C380.8 725.2 384.6 709.0 387.6 699.9 C390.6 690.8 392.8 682.0 395.6 681.0 C398.4 680.0 401.4 689.2 404.5 694.0 C407.6 698.8 412.0 708.1 414.5 709.9 C417.0 711.7 417.3 704.9 419.5 704.9 C421.7 704.9 425.5 707.1 427.5 709.9 C429.5 712.7 429.3 716.8 431.4 721.8 C433.5 726.8 437.8 735.8 440.0 739.8 C442.2 743.8 441.2 737.9 444.9 745.7 C448.5 753.5 457.8 779.5 461.9 786.6 C466.0 793.8 466.1 786.8 469.8 788.6 C473.5 790.4 480.5 796.5 483.8 797.5 C487.1 798.5 487.5 796.5 489.8 794.5 C492.1 792.5 494.7 789.6 497.7 785.6 C500.7 781.6 504.9 776.1 507.7 770.6 C510.5 765.1 512.6 755.5 514.7 752.7 C516.9 749.9 519.0 752.7 520.6 753.7 C522.2 754.7 523.3 757.7 524.6 758.7 C525.9 759.7 526.4 761.2 528.6 759.7 C530.8 758.2 533.8 749.9 537.6 749.7 C541.4 749.5 547.5 752.1 551.5 758.7 C555.5 765.4 558.5 781.1 561.5 789.6 C564.5 798.1 566.9 803.4 569.4 809.5 C571.9 815.6 574.6 823.4 576.4 826.4 C578.2 829.4 577.8 827.2 580.0 827.4 C582.2 827.6 585.9 831.7 589.9 827.4 C593.9 823.1 600.1 806.3 603.9 801.5 C607.7 796.7 610.6 800.0 612.8 798.5 C614.9 797.0 615.3 793.0 616.8 792.5 C618.3 792.0 620.0 794.8 621.8 795.5 C623.6 796.2 626.1 794.8 627.8 796.5 C629.5 798.2 630.6 800.0 631.8 805.5 C632.9 811.0 633.6 820.3 634.7 829.4 C635.9 838.5 637.5 854.1 638.7 860.3 C639.9 866.4 639.8 859.7 641.7 866.3 C643.6 872.9 647.0 894.4 650.0 900.0 C653.0 905.6 651.7 899.2 660.0 900.0 C668.3 900.8 690.4 910.8 700.0 905.0 C709.6 899.2 712.4 867.8 717.4 865.3 C722.4 862.8 706.2 884.2 730.0 890.0 C753.8 895.8 835.5 904.1 860.0 900.0 C884.5 895.9 873.6 871.8 876.9 865.3 C880.2 858.8 877.4 863.1 879.9 861.3 C882.4 859.5 888.8 857.0 891.8 854.3 C894.8 851.6 895.5 849.4 897.8 845.3 C900.1 841.1 903.8 832.2 905.8 829.4 C907.8 826.6 907.6 828.1 909.8 828.4 C911.9 828.7 915.4 829.9 918.7 831.4 C922.0 832.9 926.1 834.8 929.7 837.4 C933.4 840.0 937.6 845.8 940.6 847.3 C943.6 848.8 945.1 846.5 947.6 846.3 C950.1 846.1 951.0 846.3 955.6 846.3 C960.2 846.3 970.5 847.6 975.5 846.3 C980.5 845.0 982.5 840.0 985.5 838.4 C988.5 836.8 991.0 836.6 993.4 836.4 C995.8 836.2 998.4 837.7 1000.0 837.4 C1001.6 837.1 1001.4 837.4 1003.0 834.4 C1004.6 831.4 1007.1 824.7 1009.9 819.4 C1012.7 814.1 1016.8 807.5 1019.9 802.5 C1023.0 797.5 1023.8 791.5 1028.8 789.2 C1033.8 786.9 1044.6 790.0 1049.8 788.6 C1055.0 787.2 1055.7 781.6 1059.7 780.6 C1063.7 779.6 1070.1 780.6 1073.7 782.6 C1077.3 784.6 1078.3 789.5 1081.6 792.5 C1084.9 795.5 1090.3 798.5 1093.6 800.5 C1096.9 802.5 1098.8 802.5 1101.6 804.5 C1104.4 806.5 1107.3 811.3 1110.5 812.5 C1113.7 813.7 1117.7 811.0 1120.5 811.5 C1123.3 812.0 1125.3 813.2 1127.5 815.5 C1129.7 817.8 1131.3 822.1 1133.4 825.4 C1135.5 828.7 1137.2 832.4 1140.0 835.4 C1142.8 838.4 1146.9 840.6 1149.9 843.3 C1152.9 845.9 1154.6 849.6 1157.9 851.3 C1161.2 853.0 1166.2 853.1 1169.8 853.3 C1173.4 853.5 1176.8 852.6 1179.8 852.3 C1182.8 852.0 1184.8 853.4 1187.8 851.3 C1190.8 849.1 1194.4 842.9 1197.7 839.4 C1201.0 835.9 1204.4 832.7 1207.7 830.4 C1211.0 828.1 1214.3 827.2 1217.6 825.4 C1220.9 823.6 1223.8 820.4 1227.6 819.4 C1231.4 818.4 1236.9 820.9 1240.6 819.4 C1244.2 817.9 1245.3 812.8 1249.5 810.5 C1253.7 808.2 1261.5 806.2 1265.5 805.5 C1269.5 804.8 1271.0 806.7 1273.4 806.5 C1275.8 806.3 1277.7 804.4 1280.0 804.5 C1282.3 804.6 1284.3 805.8 1287.3 806.9 C1290.2 808.0 1294.8 810.4 1297.7 810.9 C1300.6 811.4 1301.5 810.8 1304.6 809.8 C1307.7 808.8 1312.6 806.5 1316.1 805.2 C1319.6 804.0 1322.9 803.9 1325.4 802.3 C1327.9 800.7 1329.2 797.0 1331.1 795.4 C1333.0 793.8 1334.4 792.9 1336.9 792.5 C1339.4 792.1 1343.4 792.4 1346.1 793.1 C1348.8 793.8 1350.7 795.6 1353.0 796.5 C1355.3 797.4 1357.3 798.6 1360.0 798.6 C1362.7 798.6 1366.1 796.2 1369.2 796.3 C1372.3 796.4 1375.3 798.0 1378.4 799.4 C1381.5 800.8 1384.5 803.4 1387.6 804.6 C1390.7 805.8 1395.4 806.4 1396.9 806.7" fill="none" stroke="#2962ff" stroke-width="1.1" stroke-linejoin="round"/><path d="M10.7 737.4 C13.2 739.0 20.6 743.6 25.8 747.2 C31.0 750.8 35.9 752.1 41.9 758.8 C47.9 765.5 55.3 777.8 61.5 787.3 C67.7 796.8 74.5 809.9 79.3 815.9 C84.0 821.9 86.4 822.1 90.0 823.0 C93.6 823.9 97.7 821.2 100.7 821.2 C103.7 821.2 103.9 821.2 107.8 823.0 C111.7 824.8 119.2 828.9 123.9 831.9 C128.7 834.9 132.2 836.9 136.3 840.8 C140.5 844.7 145.2 852.1 148.8 855.1 C152.4 858.1 155.5 857.7 157.7 858.6 C159.9 859.5 159.3 859.5 162.0 860.3 C164.7 861.1 169.6 863.3 173.9 863.3 C178.2 863.3 183.2 862.3 187.8 860.3 C192.5 858.3 196.5 855.1 201.8 851.3 C207.1 847.5 215.0 841.7 219.7 837.4 C224.3 833.1 226.0 833.4 229.7 825.4 C233.3 817.4 236.9 801.2 241.6 789.6 C246.2 778.0 253.0 768.0 257.6 755.7 C262.2 743.4 265.5 728.2 269.5 715.9 C273.5 703.6 276.9 694.6 281.5 682.0 C286.1 669.4 291.6 640.0 297.0 640.0 C302.4 640.0 309.8 673.0 313.9 682.0 C318.0 691.0 319.2 688.4 321.9 694.0 C324.5 699.6 326.8 708.9 329.8 715.9 C332.8 722.9 336.5 729.8 339.8 735.8 C343.1 741.8 346.8 747.7 349.8 751.7 C352.8 755.7 354.4 758.1 357.7 759.7 C361.0 761.3 366.4 762.0 369.7 761.3 C373.0 760.6 374.3 760.6 377.6 755.7 C380.9 750.8 385.8 739.1 389.6 731.8 C393.4 724.5 397.3 716.0 400.6 711.9 C403.9 707.8 405.4 707.7 409.5 706.9 C413.6 706.1 421.5 705.9 425.5 706.9 C429.5 707.9 431.0 710.8 433.4 712.9 C435.8 715.0 438.2 718.1 440.0 719.8 C441.8 721.4 440.6 717.6 443.9 722.8 C447.2 727.9 455.6 743.6 459.9 750.7 C464.2 757.9 465.8 760.6 469.8 765.7 C473.8 770.9 479.8 778.4 483.8 781.6 C487.8 784.9 491.1 784.7 493.7 785.2 C496.3 785.7 495.7 787.2 499.7 784.6 C503.7 782.0 512.6 773.1 517.6 769.6 C522.6 766.1 525.3 765.5 529.6 763.7 C533.9 761.9 539.9 759.4 543.5 758.7 C547.1 758.0 548.5 757.5 551.5 759.3 C554.5 761.1 558.2 765.2 561.5 769.6 C564.8 774.0 568.3 780.6 571.4 785.6 C574.5 790.6 577.6 795.5 580.0 799.5 C582.4 803.5 583.2 807.3 585.9 809.5 C588.5 811.7 591.9 813.2 595.9 812.5 C599.9 811.8 605.8 807.3 609.8 805.5 C613.8 803.7 616.5 802.3 619.8 801.5 C623.1 800.7 627.1 798.8 629.8 800.5 C632.4 802.2 633.4 807.0 635.7 811.5 C638.0 816.0 640.7 821.8 643.7 827.4 C646.7 833.0 650.2 839.0 653.7 845.3 C657.2 851.6 660.2 856.2 664.6 865.3 C669.0 874.4 644.1 894.2 680.0 900.0 C715.9 905.8 844.0 905.8 880.0 900.0 C916.0 894.2 891.5 873.1 895.8 865.3 C900.1 857.5 902.1 857.1 905.8 853.3 C909.4 849.5 914.1 844.7 917.7 842.4 C921.4 840.1 925.0 839.9 927.7 839.4 C930.4 838.9 931.1 838.9 933.7 839.4 C936.4 839.9 940.3 841.6 943.6 842.4 C946.9 843.2 948.6 843.8 953.6 844.3 C958.6 844.8 967.5 845.8 973.5 845.3 C979.5 844.8 985.0 842.4 989.4 841.4 C993.8 840.4 995.9 841.7 1000.0 839.4 C1004.1 837.1 1009.6 831.4 1013.9 827.4 C1018.2 823.4 1021.6 819.8 1025.9 815.5 C1030.2 811.2 1035.2 805.2 1039.8 801.5 C1044.4 797.8 1049.4 795.8 1053.7 793.5 C1058.0 791.2 1062.0 788.8 1065.7 787.6 C1069.4 786.5 1071.7 785.6 1075.7 786.6 C1079.7 787.6 1085.3 791.7 1089.6 793.5 C1093.9 795.3 1097.6 795.7 1101.6 797.5 C1105.6 799.3 1109.5 802.7 1113.5 804.5 C1117.5 806.3 1121.1 806.0 1125.5 808.5 C1129.9 811.0 1133.9 814.6 1140.0 819.4 C1146.1 824.2 1156.3 833.2 1161.9 837.4 C1167.5 841.5 1169.2 842.5 1173.8 844.3 C1178.4 846.1 1185.1 848.3 1189.8 848.3 C1194.5 848.3 1197.1 846.3 1201.7 844.3 C1206.3 842.3 1212.3 839.4 1217.6 836.4 C1222.9 833.4 1229.3 828.6 1233.6 826.4 C1237.9 824.2 1239.2 825.2 1243.5 823.4 C1247.8 821.6 1253.4 817.9 1259.5 815.5 C1265.6 813.1 1274.4 810.1 1280.0 809.1 C1285.6 808.1 1289.0 809.2 1293.1 809.2 C1297.2 809.2 1300.8 809.2 1304.6 809.0 C1308.4 808.8 1312.6 808.5 1316.1 808.0 C1319.6 807.5 1321.9 807.5 1325.4 806.3 C1328.9 805.1 1333.1 802.1 1336.9 800.6 C1340.7 799.1 1344.2 797.8 1348.4 797.1 C1352.6 796.4 1358.1 796.6 1362.3 796.5 C1366.5 796.4 1370.0 796.3 1373.8 796.7 C1377.6 797.1 1381.4 798.3 1385.3 799.1 C1389.2 799.9 1395.0 801.3 1396.9 801.7" fill="none" stroke="#ff6d00" stroke-width="1.1" stroke-linejoin="round"/></g><g fill="#b2b5be" stroke="#b2b5be" stroke-width="0.2" font-size="12"><text x="1760" y="38.0">0.8500</text><text x="1760" y="84.6">0.8000</text><text x="1760" y="131.3">0.7500</text><text x="1760" y="177.9">0.7000</text><text x="1760" y="224.6">0.6500</text><text x="1760" y="271.2">0.6000</text><text x="1760" y="317.8">0.5500</text><text x="1760" y="364.5">0.5000</text><text x="1760" y="411.1">0.4500</text><text x="1760" y="457.8">0.4000</text><text x="1760" y="551.0">0.3000</text><text x="1760" y="597.7">0.2500</text><text x="1760" y="644.3">0.2000</text><text x="1760" y="706.0">0.0400</text><text x="1760" y="750.5">0.0200</text><text x="1760" y="794.6">0.0000</text></g><g fill="#b2b5be" stroke="#b2b5be" stroke-width="0.2" font-size="12"><text x="55.2" y="884" text-anchor="middle">Jun</text><text x="188.1" y="884" text-anchor="middle">Jul</text><text x="325.4" y="884" text-anchor="middle">Aug</text><text x="462.7" y="884" text-anchor="middle">Sep</text><text x="595.5" y="884" text-anchor="middle">Oct</text><text x="732.8" y="884" text-anchor="middle">Nov</text><text x="865.7" y="884" text-anchor="middle">Dec</text><text x="1003.0" y="884" text-anchor="middle" font-weight="bold">2026</text><text x="1140.3" y="884" text-anchor="middle">Feb</text><text x="1264.3" y="884" text-anchor="middle">Mar</text><text x="1401.6" y="884" text-anchor="middle">Apr</text><text x="1534.4" y="884" text-anchor="middle">May</text><text x="1671.7" y="884" text-anchor="middle">Jun</text></g><rect x="1752" y="409" width="49" height="17" rx="1.5" fill="#e91e63"/><text x="1760.5" y="422" fill="#fff" stroke="#fff" stroke-width="0.45" font-size="12">0.4385</text><rect x="1752" y="492" width="49" height="17" rx="1.5" fill="#4caf50"/><text x="1760.5" y="505" fill="#fff" stroke="#fff" stroke-width="0.45" font-size="12">0.3496</text><rect x="1752" y="554" width="49" height="17" rx="1.5" fill="#f23645"/><text x="1760.5" y="567" fill="#fff" stroke="#fff" stroke-width="0.45" font-size="12">0.2828</text><rect x="1752" y="593" width="60" height="31" rx="1.5" fill="#f23645"/><text x="1760.5" y="606" fill="#fff" stroke="#fff" stroke-width="0.45" font-size="12">0.2408</text><text x="1760.5" y="620" fill="rgba(255,255,255,0.85)" stroke="rgba(255,255,255,0.85)" stroke-width="0.45" font-size="12">11:03:51</text><rect x="1752" y="786" width="56" height="17" rx="1.5" fill="#ffcdd2"/><text x="1760.5" y="799" fill="#131722" stroke="#131722" stroke-width="0.15" font-size="12" textLength="40.5" lengthAdjust="spacingAndGlyphs">−0.0021</text><rect x="1752" y="803" width="56" height="17" rx="1.5" fill="#ff6d00"/><text x="1760.5" y="816" fill="#fff" stroke="#fff" stroke-width="0.4" font-size="12" textLength="41" lengthAdjust="spacingAndGlyphs">−0.0059</text><rect x="1752" y="820" width="56" height="17" rx="1.5" fill="#2962ff"/><text x="1760.5" y="833" fill="#fff" stroke="#fff" stroke-width="0.4" font-size="12" textLength="41" lengthAdjust="spacingAndGlyphs">−0.0080</text><circle cx="1397.6" cy="668.3" r="9.6" fill="#0f1016" stroke="#a351c6" stroke-width="1.6"/><path d="M1400.3 663.6 L1394 669.6 L1397.6 669.6 L1395.2 673.8 L1401.6 667.4 L1398 667.4 Z" fill="#b35bd8" stroke="#b35bd8" stroke-width="0.6" stroke-linejoin="round"/><circle cx="1404.5" cy="661.5" r="3.2" fill="#f23645" stroke="#131722" stroke-width="1"/><g fill="#e0e0e0"><path d="M12 916H24V931H18V922H12Z"/><circle cx="29.4" cy="918.9" r="2.9"/><path d="M33.7 916H42L36.6 931H29Z"/><text x="49" y="931" font-size="21" font-weight="bold" textLength="121" lengthAdjust="spacingAndGlyphs">TradingView</text></g></svg></body></html>
